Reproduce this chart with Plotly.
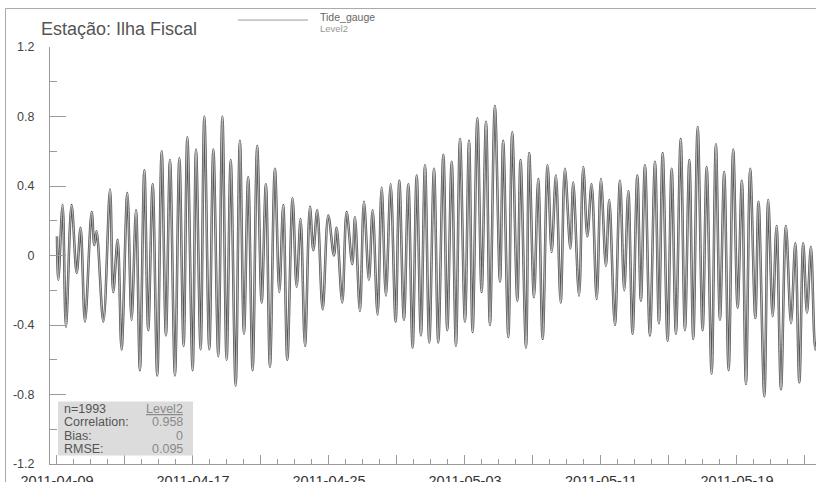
import pandas as pd
import plotly.graph_objects as go

# ---- data (days since 2011-04-09 00:00, water level in m) ----
start_date = "2011-04-09"
t_days = [0.00, 0.08, 0.33, 0.53, 0.86, 1.16, 1.39, 1.65, 2.04, 2.20, 2.33, 2.73,
          3.12, 3.31, 3.57, 3.80, 4.14, 4.39, 4.65, 4.88, 5.14, 5.37, 5.63, 5.90,
          6.16, 6.41, 6.65, 6.94, 7.20, 7.45, 7.67, 7.98, 8.18, 8.45, 8.67, 8.96,
          9.20, 9.49, 9.73, 9.98, 10.22, 10.51, 10.76, 11.00, 11.25, 11.51, 11.78,
          12.04, 12.29, 12.53, 12.82, 13.08, 13.31, 13.55, 13.86, 14.10, 14.33,
          14.59, 14.88, 15.08, 15.31, 15.63, 15.96, 16.29, 16.45, 16.78, 17.04,
          17.37, 17.53, 17.82, 18.06, 18.35, 18.57, 18.86, 19.10, 19.35, 19.63,
          19.92, 20.14, 20.41, 20.67, 20.92, 21.16, 21.41, 21.65, 21.90, 22.18,
          22.43, 22.73, 22.96, 23.22, 23.47, 23.71, 24.00, 24.24, 24.45, 24.73,
          24.98, 25.24, 25.47, 25.76, 26.06, 26.25, 26.55, 26.78, 27.08, 27.27,
          27.59, 27.78, 28.06, 28.31, 28.57, 28.86, 29.10, 29.35, 29.63, 29.88,
          30.20, 30.37, 30.71, 30.96, 31.20, 31.45, 31.75, 32.00, 32.29, 32.49,
          32.82, 33.12, 33.37, 33.61, 33.86, 34.14, 34.35, 34.59, 34.88, 35.18,
          35.41, 35.63, 35.92, 36.16, 36.41, 36.69, 36.94, 37.20, 37.43, 37.69,
          37.98, 38.22, 38.51, 38.76, 39.00, 39.25, 39.51, 39.78, 40.04, 40.29,
          40.53, 40.78, 41.08, 41.27, 41.61, 41.84, 42.10, 42.33, 42.59, 42.88,
          43.18, 43.43, 43.67, 43.90, 44.12, 44.35, 44.61, 44.70]
level2 = [0.11, -0.14, 0.29, -0.41, 0.29, -0.10, 0.16, -0.38, 0.25, 0.06, 0.14, -0.38,
          0.38, -0.21, 0.09, -0.54, 0.36, -0.37, 0.26, -0.66, 0.49, -0.43, 0.41, -0.69,
          0.60, -0.46, 0.55, -0.69, 0.56, -0.52, 0.68, -0.66, 0.61, -0.54, 0.80, -0.54,
          0.61, -0.58, 0.80, -0.60, 0.55, -0.75, 0.66, -0.45, 0.45, -0.66, 0.63,
          -0.27, 0.41, -0.64, 0.50, -0.21, 0.29, -0.60, 0.33, -0.18, 0.21,
          -0.52, 0.28, 0.03, 0.26, -0.31, 0.23, 0.00, 0.16, -0.27, 0.25,
          -0.05, 0.22, -0.32, 0.31, -0.14, 0.26, -0.34, 0.39, -0.23, 0.41,
          -0.38, 0.43, -0.37, 0.41, -0.53, 0.46, -0.46, 0.52, -0.50, 0.50,
          -0.50, 0.58, -0.43, 0.54, -0.52, 0.67, -0.38, 0.66, -0.44, 0.79,
          -0.21, 0.77, -0.40, 0.86, -0.15, 0.66, -0.47, 0.71, -0.26, 0.55,
          -0.53, 0.59, -0.24, 0.44, -0.48, 0.52, 0.02, 0.46, -0.27, 0.50,
          0.04, 0.42, -0.23, 0.51, 0.11, 0.41, -0.25, 0.44, -0.06, 0.32,
          -0.40, 0.43, -0.20, 0.37, -0.45, 0.46, -0.26, 0.52, -0.46, 0.54,
          -0.39, 0.59, -0.49, 0.50, -0.45, 0.67, -0.43, 0.55, -0.48, 0.74,
          -0.43, 0.51, -0.68, 0.64, -0.37, 0.48, -0.66, 0.61, -0.30, 0.43,
          -0.74, 0.50, -0.36, 0.31, -0.81, 0.32, -0.35, 0.17, -0.77, 0.17,
          -0.39, 0.07, -0.73, 0.07, -0.33, 0.05, -0.54, -0.50]
tide_gauge = level2  # observed series overlaps the model almost exactly

x_tick_dates = ["2011-04-09", "2011-04-13", "2011-04-17", "2011-04-21", "2011-04-25",
                "2011-04-29", "2011-05-03", "2011-05-07", "2011-05-11", "2011-05-15",
                "2011-05-19", "2011-05-23"]
x_tick_text = ["2011-04-09", "", "2011-04-17", "", "2011-04-25", "", "2011-05-03", "",
               "2011-05-11", "", "2011-05-19", ""]
y_tick_vals = [-1.2, -0.8, -0.4, 0, 0.4, 0.8, 1.2]
y_tick_text = ["-1.2", "-0.8", "-0.4", "0", "0.4", "0.8", "1.2"]

stat_labels = ["n=1993", "Correlation:", "Bias:", "RMSE:"]
stat_values = ["<u>Level2</u>", "0.958", "0", "0.095"]

times = pd.Timestamp(start_date) + pd.to_timedelta(t_days, unit="D")

fig = go.Figure()
fig.add_trace(go.Scatter(x=times, y=level2, mode="lines", name="Level2",
                         line=dict(color="#555555", width=2.5, shape="spline", smoothing=1.0),
                         showlegend=False))
fig.add_trace(go.Scatter(x=times, y=tide_gauge, mode="lines", name="Tide_gauge",
                         line=dict(color="#e2e2e2", width=0.7, shape="spline", smoothing=1.0),
                         showlegend=False))

axis_col = "#9a9a9a"
fig.update_xaxes(range=["2011-04-08 14:10", "2011-05-23 15:36"], automargin=False,
                 showline=True, linecolor=axis_col, linewidth=1, showgrid=False, zeroline=False,
                 tickmode="array", tickvals=x_tick_dates, ticktext=x_tick_text,
                 ticks="inside", ticklen=9, tickcolor=axis_col, tickwidth=1,
                 minor=dict(dtick=86400000, tick0="2011-04-09", ticks="inside", ticklen=5,
                            tickcolor=axis_col, tickwidth=1, showgrid=False),
                 tickfont=dict(family="Liberation Sans, Arial", size=14.5, color="#333333"),
                 ticklabelstandoff=4)
fig.update_yaxes(range=[-1.2, 1.2], automargin=False,
                 showline=True, linecolor=axis_col, linewidth=1, showgrid=False, zeroline=False,
                 tickmode="array", tickvals=y_tick_vals, ticktext=y_tick_text,
                 ticks="inside", ticklen=16, tickcolor=axis_col, tickwidth=1,
                 minor=dict(dtick=0.2, tick0=0, ticks="inside", ticklen=7,
                            tickcolor=axis_col, tickwidth=1, showgrid=False),
                 tickfont=dict(family="Liberation Sans, Arial", size=12.5, color="#444444"),
                 ticklabelstandoff=12)

# page pixel (reference coordinates) -> paper coordinates
# (plot area spans page x 50..816, y 47..464.5)
def px_x(px):
    return (px - 50) / 766.0

def px_y(py):
    return (464.5 - py) / 417.5

shapes = [
    # outer frame
    dict(type="rect", xref="paper", yref="paper", x0=px_x(5.5), x1=px_x(840),
         y0=px_y(500), y1=px_y(8.5), line=dict(color="#a8a8a8", width=1), layer="below"),
    # legend line sample
    dict(type="line", xref="paper", yref="paper", x0=px_x(238), x1=px_x(308),
         y0=px_y(20), y1=px_y(20), line=dict(color="#9a9a9a", width=1)),
    # statistics box
    dict(type="rect", xref="paper", yref="paper", x0=px_x(58), x1=px_x(193),
         y0=px_y(456), y1=px_y(402), fillcolor="#dcdcdc", line=dict(width=0), layer="above"),
]

annos = [
    dict(text="Estação: Ilha Fiscal", x=px_x(199), y=px_y(29), xanchor="right", yanchor="middle",
         font=dict(family="Liberation Sans, Arial", size=18, color="#555555")),
    dict(text="Tide_gauge", x=px_x(318), y=px_y(17), xanchor="left", yanchor="middle",
         font=dict(family="Liberation Sans, Arial", size=10.5, color="#666666")),
    dict(text="Level2", x=px_x(318), y=px_y(28.5), xanchor="left", yanchor="middle",
         font=dict(family="Liberation Sans, Arial", size=9.5, color="#999999")),
]
row_y = [409, 422.5, 436, 449.5]
for lab, val, ry in zip(stat_labels, stat_values, row_y):
    annos.append(dict(text=lab, x=px_x(62), y=px_y(ry), xanchor="left", yanchor="middle",
                      font=dict(family="Liberation Sans, Arial", size=12.5, color="#555555")))
    annos.append(dict(text=val, x=px_x(185), y=px_y(ry), xanchor="right", yanchor="middle",
                      font=dict(family="Liberation Sans, Arial", size=12.5, color="#8a8a8a")))
for a in annos:
    a.update(xref="paper", yref="paper", showarrow=False)

fig.update_layout(width=816, height=482,
                  margin=dict(l=50, r=0, t=47, b=17.5, autoexpand=False),
                  paper_bgcolor="white", plot_bgcolor="white",
                  shapes=shapes, annotations=annos, showlegend=False)

# remove the default page margin so the figure fills the window exactly
fig.write_html("out.html", config={"displayModeBar": False},
               post_script="document.body.style.margin='0';document.body.style.overflow='hidden';")
